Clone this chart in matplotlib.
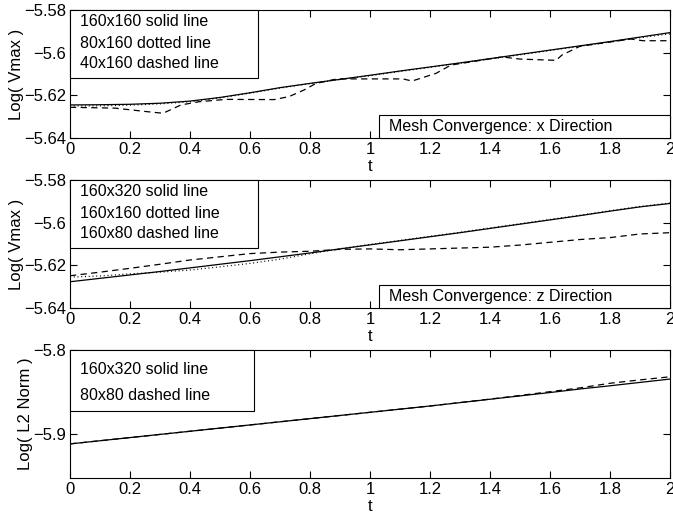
import numpy as np
import matplotlib
matplotlib.use("Agg")
from matplotlib import pyplot as plt
from matplotlib.patches import Rectangle

plt.rcParams['font.family'] = ['Liberation Sans', 'DejaVu Sans']

# time grid shared by most runs
t = [0, 0.1, 0.2, 0.3, 0.4, 0.5, 0.6, 0.7, 0.8, 0.9, 1.0,
     1.1, 1.2, 1.3, 1.4, 1.5, 1.6, 1.7, 1.8, 1.9, 2.0]

# x direction runs
x_160x160 = [-5.6245, -5.6244, -5.6242, -5.6237, -5.6227, -5.6210, -5.6188,
             -5.6164, -5.6144, -5.6125, -5.6106, -5.6086, -5.6067, -5.6048,
             -5.6028, -5.6008, -5.5988, -5.5968, -5.5948, -5.5927, -5.5906]
x_80x160 = [-5.6250, -5.6249, -5.6246, -5.6240, -5.6230, -5.6212, -5.6190,
            -5.6166, -5.6145, -5.6126, -5.6108, -5.6088, -5.6069, -5.6049,
            -5.6030, -5.6010, -5.5990, -5.5970, -5.5950, -5.5930, -5.5912]
t_40x160 = [0, 0.15, 0.26, 0.31, 0.37, 0.43, 0.52, 0.68, 0.73, 0.78, 0.82,
            0.89, 1.0, 1.11, 1.14, 1.22, 1.27, 1.44, 1.5, 1.62, 1.64, 1.70,
            1.87, 1.91, 2.0]
x_40x160 = [-5.6256, -5.6260, -5.6277, -5.6284, -5.6245, -5.6230, -5.6219,
            -5.6220, -5.6206, -5.6175, -5.6144, -5.6123, -5.6123, -5.6123,
            -5.6133, -5.6097, -5.6058, -5.6020, -5.6030, -5.6036, -5.6011,
            -5.5970, -5.5936, -5.5944, -5.5944]

# z direction runs
z_160x320 = [-5.6277, -5.6261, -5.6245, -5.6229, -5.6212, -5.6195, -5.6178,
             -5.6160, -5.6142, -5.6123, -5.6104, -5.6085, -5.6066, -5.6047,
             -5.6027, -5.6007, -5.5987, -5.5967, -5.5946, -5.5926, -5.5910]
z_160x160 = [-5.6255, -5.6250, -5.6240, -5.6232, -5.6222, -5.6207, -5.6191,
             -5.6171, -5.6146, -5.6122, -5.6102, -5.6083, -5.6064, -5.6045,
             -5.6025, -5.6005, -5.5985, -5.5965, -5.5944, -5.5924, -5.5908]
z_160x80 = [-5.6249, -5.6232, -5.6214, -5.6195, -5.6175, -5.6160, -5.6145,
            -5.6138, -5.6134, -5.6125, -5.6123, -5.6127, -5.6123, -5.6119,
            -5.6115, -5.6105, -5.6092, -5.6079, -5.6070, -5.6053, -5.6047]

# L2 norm runs
t_l2 = [0, 0.2, 0.4, 0.6, 0.8, 1.0, 1.2, 1.4, 1.5, 1.6, 1.7, 1.8, 1.9, 2.0]
l2_160x320 = [-5.9115, -5.9040, -5.8965, -5.8890, -5.8815, -5.8740, -5.8665,
              -5.8585, -5.8545, -5.8505, -5.8463, -5.8425, -5.8385, -5.8345]
l2_80x80 = [-5.9115, -5.9040, -5.8965, -5.8890, -5.8815, -5.8740, -5.8665,
            -5.8583, -5.8540, -5.8495, -5.8450, -5.8395, -5.8355, -5.8318]

xticks = [0, 0.2, 0.4, 0.6, 0.8, 1, 1.2, 1.4, 1.6, 1.8, 2]
xticklabels = ['0', '0.2', '0.4', '0.6', '0.8', '1', '1.2', '1.4', '1.6', '1.8', '2']

fig = plt.figure(figsize=(6.73, 5.18), dpi=100)
left, width = 70 / 673, 600 / 673
h = 128 / 518
ax1 = fig.add_axes([left, 1 - 138 / 518, width, h])
ax2 = fig.add_axes([left, 1 - 308 / 518, width, h])
ax3 = fig.add_axes([left, 1 - 478 / 518, width, h])

lw = 0.9
dash = (0, (5, 3.5))
dot = (0, (0.8, 2.2))

ax1.plot(t, x_160x160, color='black', lw=lw)
ax1.plot(t, x_80x160, color='black', lw=lw, linestyle=dot)
ax1.plot(t_40x160, x_40x160, color='black', lw=lw, linestyle=dash)

ax2.plot(t, z_160x320, color='black', lw=lw)
ax2.plot(t, z_160x160, color='black', lw=lw, linestyle=dot)
ax2.plot(t, z_160x80, color='black', lw=lw, linestyle=dash)

ax3.plot(t_l2, l2_160x320, color='black', lw=lw)
ax3.plot(t_l2, l2_80x80, color='black', lw=lw, linestyle=dash)


def style(ax, ylim, yticks, ylabels, ylab):
    ax.set_xlim(0, 2)
    ax.set_ylim(*ylim)
    ax.set_xticks(xticks)
    ax.set_xticklabels(xticklabels)
    ax.set_yticks(yticks)
    ax.set_yticklabels(ylabels)
    ax.tick_params(direction='in', length=5, width=0.8, top=True, right=True,
                   labelsize=12, pad=3)
    for s in ax.spines.values():
        s.set_linewidth(0.8)
    ax.set_xlabel('t', fontsize=12, labelpad=1)
    ax.set_ylabel(ylab, fontsize=12, labelpad=0)


def note_box(ax, x0, y0, w, hh, lines, ys, tx):
    ax.add_patch(Rectangle((x0, y0), w, hh, transform=ax.transAxes,
                           facecolor='white', edgecolor='black', lw=0.8,
                           zorder=5, clip_on=False))
    for s, y in zip(lines, ys):
        ax.text(tx, y, s, transform=ax.transAxes, fontsize=11.5,
                va='center', ha='left', zorder=6)


vmax_ticks = [-5.64, -5.62, -5.6, -5.58]
vmax_labels = ['\u22125.64', '\u22125.62', '\u22125.6', '\u22125.58']
style(ax1, (-5.64, -5.58), vmax_ticks, vmax_labels, 'Log( Vmax )')
style(ax2, (-5.64, -5.58), vmax_ticks, vmax_labels, 'Log( Vmax )')
style(ax3, (-5.952, -5.8), [-5.9, -5.8], ['\u22125.9', '\u22125.8'], 'Log( L2 Norm )')

ys3 = [1 - 12 / 128, 1 - 33 / 128, 1 - 54 / 128]
note_box(ax1, 0, 1 - 68 / 128, 188 / 600, 68 / 128,
         ['160x160 solid line', '80x160 dotted line', '40x160 dashed line'],
         ys3, 10 / 600)
note_box(ax2, 0, 1 - 68 / 128, 188 / 600, 68 / 128,
         ['160x320 solid line', '160x160 dotted line', '160x80 dashed line'],
         ys3, 10 / 600)
note_box(ax3, 0, 1 - 61 / 128, 184 / 600, 61 / 128,
         ['160x320 solid line', '80x80 dashed line'],
         [1 - 19 / 128, 1 - 46 / 128], 10 / 600)

note_box(ax1, 309 / 600, 0, 291 / 600, 23 / 128,
         ['Mesh Convergence: x Direction'], [11.5 / 128], 319 / 600)
note_box(ax2, 309 / 600, 0, 291 / 600, 23 / 128,
         ['Mesh Convergence: z Direction'], [11.5 / 128], 319 / 600)

fig.savefig('out.png', dpi=100, facecolor='white')
